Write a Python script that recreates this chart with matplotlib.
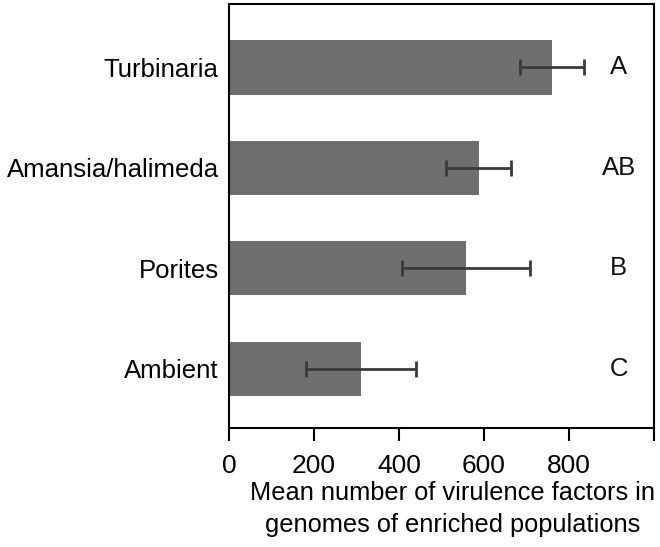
import matplotlib
matplotlib.use("Agg")
import matplotlib.pyplot as plt
import numpy as np

plt.rcParams["font.family"] = ["Liberation Sans", "DejaVu Sans"]

categories = ["Turbinaria", "Amansia/halimeda", "Porites", "Ambient"]
means = [760, 587, 558, 311]
errors = [76, 77, 150, 130]
letters = ["A", "AB", "B", "C"]
x_ticks = [0, 200, 400, 600, 800, 1000]
x_tick_labels = ["0", "200", "400", "600", "800", ""]

figure = plt.figure(figsize=(6.6, 5.47), dpi=100)
axis = figure.add_axes([0.347, 0.2175, 0.644, 0.775])

positions = np.arange(len(categories))[::-1]
axis.barh(positions, means, height=0.54, color="#6f6f6f", edgecolor="none")
axis.errorbar(means, positions, xerr=errors, fmt="none", ecolor="#3a3a3a",
              elinewidth=2, capsize=5.5, capthick=2)
for pos, letter in zip(positions, letters):
    axis.text(917, pos, letter, ha="center", va="center", fontsize=18.5, color="#111111")

axis.set_xlim(0, 1000)
axis.set_ylim(-0.59, 3.63)
axis.set_xticks(x_ticks)
axis.set_xticklabels(x_tick_labels, fontsize=19)
axis.set_yticks(positions)
axis.set_yticklabels(categories, fontsize=18.5)
axis.tick_params(axis="y", length=0, pad=7.5)
axis.tick_params(axis="x", length=9.5, width=1.5, direction="out", pad=9)
for spine in axis.spines.values():
    spine.set_linewidth(1.5)
axis.set_xlabel("Mean number of virulence factors in\ngenomes of enriched populations",
                fontsize=18.3, linespacing=1.45)
axis.xaxis.set_label_coords(0.525, -0.124)

figure.savefig("out.png", dpi=100)
